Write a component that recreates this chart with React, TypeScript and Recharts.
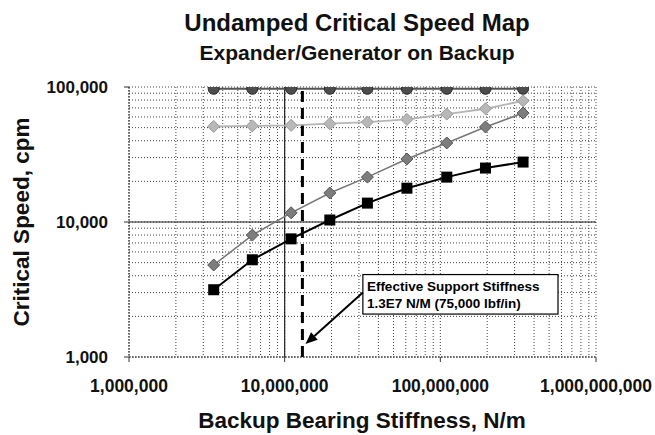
import React from 'react';
import { LineChart, Line, XAxis, YAxis, CartesianGrid, ReferenceLine, ReferenceArea } from 'recharts';

// Backup bearing stiffness, N/m
const stiffness = [3.5e6, 6.2e6, 1.1e7, 1.95e7, 3.4e7, 6.1e7, 1.1e8, 1.95e8, 3.4e8];
// Critical speeds, cpm
const firstMode = [3150, 5250, 7500, 10350, 13800, 17800, 21500, 25100, 27800];
const secondMode = [4800, 8000, 11700, 16400, 21500, 29300, 38500, 50600, 64100];
const thirdMode = [51000, 51500, 52000, 53500, 55000, 57500, 63000, 69000, 79000];
const fourthMode = [97000, 97000, 97000, 97000, 97000, 97000, 97000, 97000, 97000];

const xDecades = [1e6, 1e7, 1e8, 1e9];
const yDecades = [1000, 10000, 100000];

const effectiveStiffness = 1.3e7;
const boxX = [3.18e7, 5.7e8];
const boxY = [2080, 4080];
const arrowFrom = { x: 3.18e7, y: 3000 };
const arrowTo = { x: 1.36e7, y: 1250 };

const withMinors = (decades: number[]) => {
  const out: number[] = [];
  for (let i = 0; i < decades.length - 1; i++) {
    for (let m = 1; m < 10; m++) out.push(m * decades[i]);
  }
  out.push(decades[decades.length - 1]);
  return out;
};
const xGridTicks = withMinors(xDecades);
const yGridTicks = withMinors(yDecades);

const data = stiffness.map((x, i) => ({
  x,
  m1: firstMode[i],
  m2: secondMode[i],
  m3: thirdMode[i],
  m4: fourthMode[i],
}));

const FONT = "'Liberation Sans', Arial, Helvetica, sans-serif";

const XTick = (p: any) => {
  const { x, y, payload } = p;
  if (!xDecades.includes(payload.value)) return <g />;
  return (
    <g>
      <line x1={x} x2={x} y1={y - 35} y2={y - 30} stroke="#333" strokeWidth={1} />
      <text x={x} y={y} textAnchor="middle" fontFamily={FONT} fontWeight="bold" fontSize={17.5} fill="#111">
        {payload.value.toLocaleString('en-US')}
      </text>
    </g>
  );
};

const YTick = (p: any) => {
  const { x, y, payload } = p;
  if (!yDecades.includes(payload.value)) return <g />;
  return (
    <g>
      <line x1={x + 21} x2={x + 16} y1={y} y2={y} stroke="#333" strokeWidth={1} />
      <text x={x} y={y + 6} textAnchor="end" fontFamily={FONT} fontWeight="bold" fontSize={17} fill="#111">
        {payload.value.toLocaleString('en-US')}
      </text>
    </g>
  );
};

const squareDot = (p: any) => (
  <rect key={`sq${p.index}`} x={p.cx - 5.5} y={p.cy - 5.5} width={11} height={11} fill="#000" />
);
const makeDiamond = (fill: string, stroke: string, tag: string) => (p: any) => (
  <polygon
    key={`${tag}${p.index}`}
    points={`${p.cx},${p.cy - 6} ${p.cx + 6},${p.cy} ${p.cx},${p.cy + 6} ${p.cx - 6},${p.cy}`}
    fill={fill}
    stroke={stroke}
    strokeWidth={1}
  />
);
const darkDiamond = makeDiamond('#7d7d7d', '#555', 'dd');
const lightDiamond = makeDiamond('#b8b8b8', '#999', 'ld');
const circleDot = (p: any) => (
  <circle key={`ci${p.index}`} cx={p.cx} cy={p.cy} r={5.5} fill="#4d4d4d" stroke="#2a2a2a" strokeWidth={1} />
);

const Arrow = (p: any) => {
  const { x1, y1, x2, y2 } = p;
  const ang = Math.atan2(y2 - y1, x2 - x1);
  const L = 12;
  const W = 5;
  const bx = x2 - L * Math.cos(ang);
  const by = y2 - L * Math.sin(ang);
  const pts = `${x2},${y2} ${bx + W * Math.sin(ang)},${by - W * Math.cos(ang)} ${bx - W * Math.sin(ang)},${by + W * Math.cos(ang)}`;
  return (
    <g>
      <line x1={x1} y1={y1} x2={bx} y2={by} stroke="#000" strokeWidth={2} />
      <polygon points={pts} fill="#000" />
    </g>
  );
};

const NoteBox = (p: any) => {
  const { x, y, width, height } = p;
  return (
    <g>
      <rect x={x} y={y} width={width} height={height} fill="#fff" stroke="#000" strokeWidth={1.2} />
      <text x={x + 4} y={y + 16} fontFamily={FONT} fontWeight="bold" fontSize={13.5} fill="#000">
        Effective Support Stiffness
      </text>
      <text x={x + 4} y={y + 33} fontFamily={FONT} fontWeight="bold" fontSize={13.5} fill="#000">
        1.3E7 N/M (75,000 lbf/in)
      </text>
    </g>
  );
};

export default function App() {
  return (
    <div style={{ position: 'absolute', left: 0, top: 0, width: 655, height: 435, background: '#fff' }}>
      <LineChart width={655} height={435} data={data} margin={{ top: 87, right: 59, bottom: 0, left: 0 }}>
        <CartesianGrid stroke="#444" strokeDasharray="1 2" strokeWidth={1} />
        <XAxis
          dataKey="x"
          type="number"
          scale="log"
          domain={[1e6, 1e9]}
          ticks={xGridTicks}
          interval={0}
          allowDataOverflow
          height={78}
          tickSize={0}
          tickMargin={35}
          tickLine={false}
          tick={<XTick />}
          axisLine={{ stroke: '#333', strokeDasharray: '2 1' }}
        />
        <YAxis
          type="number"
          scale="log"
          domain={[1000, 100000]}
          ticks={yGridTicks}
          interval={0}
          allowDataOverflow
          width={129}
          tickSize={0}
          tickMargin={21}
          tickLine={false}
          tick={<YTick />}
          axisLine={{ stroke: '#333', strokeDasharray: '2 1' }}
        />
        <ReferenceLine x={1e7} stroke="#222" strokeWidth={1.2} />
        <ReferenceLine y={10000} stroke="#222" strokeWidth={1.2} />
        <ReferenceLine x={effectiveStiffness} stroke="#000" strokeWidth={3} strokeDasharray="11 6" />
        <Line dataKey="m4" stroke="#555" strokeWidth={2} dot={circleDot} isAnimationActive={false} />
        <Line dataKey="m3" stroke="#b5b5b5" strokeWidth={1.8} dot={lightDiamond} isAnimationActive={false} />
        <Line dataKey="m2" stroke="#777" strokeWidth={1.5} dot={darkDiamond} isAnimationActive={false} />
        <Line dataKey="m1" stroke="#000" strokeWidth={2} dot={squareDot} isAnimationActive={false} />
        <ReferenceArea x1={boxX[0]} x2={boxX[1]} y1={boxY[0]} y2={boxY[1]} shape={NoteBox} />
        <ReferenceLine segment={[arrowFrom, arrowTo]} shape={Arrow} />
      </LineChart>
      <svg width={655} height={435} style={{ position: 'absolute', left: 0, top: 0, pointerEvents: 'none' }}>
        <text x={357} y={31} textAnchor="middle" fontFamily={FONT} fontWeight="bold" fontSize={24} fill="#111">
          Undamped Critical Speed Map
        </text>
        <text x={357} y={60} textAnchor="middle" fontFamily={FONT} fontWeight="bold" fontSize={21} fill="#111">
          Expander/Generator on Backup
        </text>
        <text x={362} y={428} textAnchor="middle" fontFamily={FONT} fontWeight="bold" fontSize={22.5} fill="#111">
          Backup Bearing Stiffness, N/m
        </text>
        <text
          transform="translate(29,222) rotate(-90)"
          textAnchor="middle"
          fontFamily={FONT}
          fontWeight="bold"
          fontSize={22.5}
          fill="#111"
        >
          Critical Speed, cpm
        </text>
      </svg>
    </div>
  );
}
